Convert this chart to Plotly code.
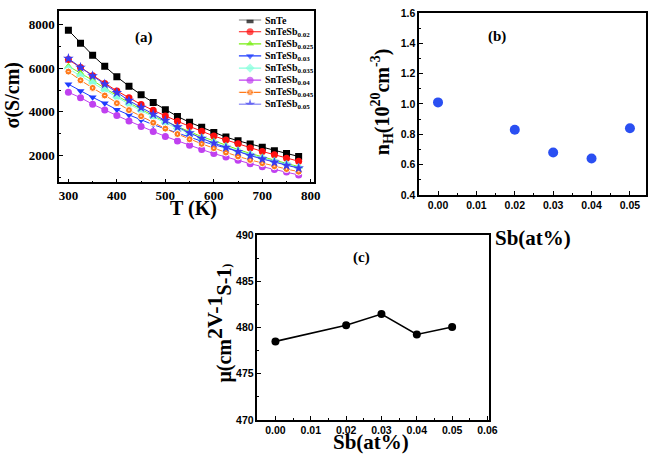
import plotly.graph_objects as go

# ---------------- data ----------------
T = [300, 325, 350, 375, 400, 425, 450, 475, 500, 525, 550, 575, 600, 625, 650, 675, 700, 725, 750, 775]

sig_SnTe = [7750, 7150, 6600, 6090, 5610, 5180, 4780, 4430, 4100, 3790, 3520, 3290, 3050, 2840, 2670, 2520, 2370, 2210, 2090, 1950]
sig_002 = [6400, 6040, 5660, 5300, 4960, 4650, 4340, 4070, 3810, 3570, 3330, 3110, 2890, 2710, 2530, 2340, 2180, 2030, 1870, 1730]
sig_0025 = [6100, 5780, 5450, 5080, 4740, 4420, 4120, 3820, 3560, 3320, 3080, 2860, 2670, 2460, 2270, 2090, 1940, 1790, 1640, 1480]
sig_003 = [5270, 4960, 4670, 4390, 4100, 3860, 3630, 3410, 3220, 3020, 2840, 2650, 2490, 2330, 2170, 2010, 1860, 1720, 1580, 1420]
sig_0035 = [5980, 5650, 5320, 4990, 4670, 4350, 4050, 3760, 3490, 3240, 3000, 2780, 2580, 2390, 2200, 2030, 1870, 1720, 1580, 1440]
sig_004 = [4900, 4650, 4350, 4080, 3830, 3580, 3330, 3100, 2870, 2660, 2460, 2270, 2080, 1920, 1770, 1620, 1480, 1350, 1230, 1100]
sig_0045 = [5850, 5450, 5100, 4750, 4400, 4080, 3800, 3500, 3230, 2980, 2740, 2530, 2330, 2130, 1950, 1790, 1640, 1500, 1370, 1250]
sig_005 = [6450, 6040, 5650, 5270, 4880, 4520, 4200, 3880, 3600, 3300, 3030, 2780, 2560, 2360, 2170, 1990, 1830, 1680, 1540, 1410]

series_names = ["SnTe", "SnTeSb<sub>0.02</sub>", "SnTeSb<sub>0.025</sub>", "SnTeSb<sub>0.03</sub>",
                "SnTeSb<sub>0.035</sub>", "SnTeSb<sub>0.04</sub>", "SnTeSb<sub>0.045</sub>", "SnTeSb<sub>0.05</sub>"]

sb = [0.00, 0.02, 0.03, 0.04, 0.05]
nH = [1.01, 0.83, 0.68, 0.64, 0.84]
mu = [478.5, 480.25, 481.45, 479.25, 480.05]

# ---------------- styling ----------------
W, H = 660, 467
def px(x):
    return x / W
def py(y):
    return 1 - y / H

colors = ["#000000", "#FF1010", "#77EE11", "#1E3CFF", "#88FFDD", "#C040F0", "#FF7A1A", "#3A3AF0"]
symbols = ["square", "circle", "triangle-up", "triangle-down", "diamond", "circle", "circle-dot", "star"]
sigs = [sig_SnTe, sig_002, sig_0025, sig_003, sig_0035, sig_004, sig_0045, sig_005]

SERIF = "Liberation Serif, Times New Roman, serif"
SANS = "Liberation Sans, Arial, sans-serif"
serif_b = dict(family=SERIF, weight="bold", color="black")
sans_b = dict(family=SANS, weight="bold", color="black")

fig = go.Figure()

def marker_for(c, s, size):
    if s == "circle-dot":
        return dict(color=c, symbol=s, size=size, line=dict(width=1, color="white"))
    return dict(color=c, symbol=s, size=size + (1 if s == "star" else 0), line=dict(width=0))

for name, ys, c, s in zip(series_names, sigs, colors, symbols):
    fig.add_trace(go.Scatter(x=T, y=ys, name=name, mode="lines+markers",
                             line=dict(color=c, width=1), marker=marker_for(c, s, 7),
                             xaxis="x", yaxis="y", showlegend=False))

# hand-made compact legend on its own hidden axis (row i -> y = i)
LEG_TOP, LEG_STEP = 14, 12.43
for i, (name, c, s) in enumerate(zip(series_names, colors, symbols)):
    m = marker_for(c, s, 7)
    m["size"] = [0, m["size"], 0]
    fig.add_trace(go.Scatter(x=[0, 1, 2], y=[i, i, i], mode="lines+markers",
                             line=dict(color=c, width=1.2), marker=m,
                             xaxis="x4", yaxis="y4", showlegend=False, hoverinfo="skip"))
    fig.add_annotation(text=name, x=px(267), y=py(LEG_TOP + LEG_STEP * i + 0.5),
                       xref="paper", yref="paper", showarrow=False,
                       xanchor="left", yanchor="middle", font=dict(size=10, **serif_b))

fig.add_trace(go.Scatter(x=sb, y=nH, mode="markers", showlegend=False,
                         marker=dict(color="#2A4FF2", size=10), xaxis="x2", yaxis="y2"))
fig.add_trace(go.Scatter(x=sb, y=mu, mode="lines+markers", showlegend=False,
                         line=dict(color="black", width=1.6),
                         marker=dict(color="black", size=8), xaxis="x3", yaxis="y3"))

common_axis = dict(showline=True, linecolor="black", linewidth=1.5, mirror=True,
                   ticks="inside", ticklen=4, tickwidth=1.2, tickcolor="black",
                   showgrid=False, zeroline=False)
minor = lambda d: dict(dtick=d, tick0=0, ticks="inside", ticklen=2, tickwidth=1, tickcolor="black")

fig.update_layout(
    width=W, height=H,
    margin=dict(l=0, r=0, t=0, b=0),
    paper_bgcolor="white", plot_bgcolor="white",
    showlegend=False,
    xaxis=dict(domain=[px(60), px(318)], anchor="y", range=[281, 806],
               tickvals=[300, 400, 500, 600, 700, 800], minor=minor(50),
               tickfont=dict(size=13, **serif_b), **common_axis),
    yaxis=dict(domain=[py(181), py(5)], anchor="x", range=[760, 8640],
               tickvals=[2000, 4000, 6000, 8000], minor=minor(1000),
               tickfont=dict(size=13, **serif_b), **common_axis),
    xaxis2=dict(domain=[px(425), px(655)], anchor="y2", range=[-0.0049, 0.0542],
                tickvals=[0, 0.01, 0.02, 0.03, 0.04, 0.05], tickformat=".2f", minor=minor(0.005),
                tickfont=dict(size=10.5, **sans_b), **common_axis),
    yaxis2=dict(domain=[py(194), py(7)], anchor="x2", range=[0.4, 1.6],
                tickvals=[0.4, 0.6, 0.8, 1.0, 1.2, 1.4, 1.6], tickformat=".1f", minor=minor(0.1),
                tickfont=dict(size=10.5, **sans_b), **common_axis),
    xaxis3=dict(domain=[px(261), px(496)], anchor="y3", range=[-0.0051, 0.0605],
                tickvals=[0, 0.01, 0.02, 0.03, 0.04, 0.05, 0.06], tickformat=".2f", minor=minor(0.005),
                tickfont=dict(size=10.5, **sans_b), **common_axis),
    yaxis3=dict(domain=[py(425), py(235)], anchor="x3", range=[470, 490],
                tickvals=[470, 475, 480, 485, 490], minor=minor(2.5),
                tickfont=dict(size=10.5, **sans_b), **common_axis),
    # legend axis: x 0..2 spans 242..265 px, rows from y=14 to y=101 px
    xaxis4=dict(domain=[px(242), px(265)], anchor="y4", range=[0, 2], visible=False, fixedrange=True),
    yaxis4=dict(domain=[py(LEG_TOP + LEG_STEP * 7), py(LEG_TOP)], anchor="x4", range=[7, 0],
                visible=False, fixedrange=True),
)

annots = [
    dict(text="(a)", x=px(146), y=py(32), size=15, font=serif_b, angle=0),
    dict(text="T (K)", x=px(196), y=py(208), size=20, font=serif_b, angle=0),
    dict(text="σ(S/cm)", x=px(13), y=py(92), size=20, font=serif_b, angle=-90),
    dict(text="(b)", x=px(504), y=py(31), size=15, font=serif_b, angle=0),
    dict(text="Sb(at%)", x=px(540), y=py(238), size=21, font=serif_b, angle=0),
    dict(text="n<sub>H</sub>(10<sup>20</sup>cm<sup>-3</sup>)", x=px(388), y=py(98), size=20, font=serif_b, angle=-90),
    dict(text="(c)", x=px(367), y=py(258), size=15, font=serif_b, angle=0),
    dict(text="Sb(at%)", x=px(376), y=py(448), size=21, font=serif_b, angle=0),
    dict(text="μ(cm<sup><span style='font-size:22px'>2V-1</span></sup><span style='font-size:20px'>S-1</span><span style='font-size:12px'>)</span>",
         x=px(222), y=py(325), size=20, font=serif_b, angle=-90),
]
for a in annots:
    f = dict(a["font"])
    f["size"] = a["size"]
    fig.add_annotation(text=a["text"], x=a["x"], y=a["y"], xref="paper", yref="paper",
                       showarrow=False, textangle=a["angle"], font=f,
                       xanchor="center", yanchor="middle")

fig.write_html("out.html", config={"displayModeBar": False},
               post_script="document.body.style.margin='0';document.body.style.overflow='hidden';")
